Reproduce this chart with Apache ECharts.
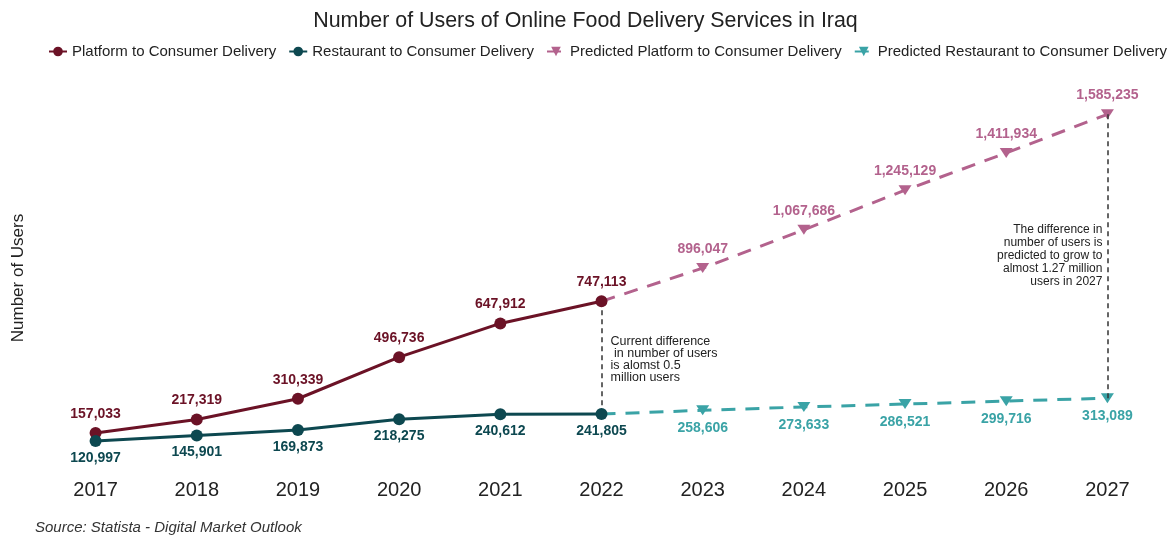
<!DOCTYPE html>
<html><head><meta charset="utf-8">
<script src="https://cdn.jsdelivr.net/npm/echarts@6/dist/echarts.min.js"></script>
<style>html,body{margin:0;padding:0;background:#fff}#c{width:1171px;height:539px}</style>
</head><body><div id="c"></div>
<script>
const years = ['2017','2018','2019','2020','2021','2022','2023','2024','2025','2026','2027'];
const platformActual = [157033, 217319, 310339, 496736, 647912, 747113, null, null, null, null, null];
const restaurantActual = [120997, 145901, 169873, 218275, 240612, 241805, null, null, null, null, null];
const platformPredicted = [null, null, null, null, null, 747113, 896047, 1067686, 1245129, 1411934, 1585235];
const restaurantPredicted = [null, null, null, null, null, 241805, 258606, 273633, 286521, 299716, 313089];
const noteCurrent = 'Current difference\n in number of users\nis alomst 0.5\nmillion users';
const noteFuture = 'The difference in\nnumber of users is\npredicted to grow to\nalmost 1.27 million\nusers in 2027';

const cPA = '#6b1226', cRA = '#0d4850', cPP = '#b3628d', cRP = '#3aa3a6';
const fmt = v => Number(v).toLocaleString('en-US');
const font = '"Liberation Sans", Arial, sans-serif';

function predData(arr, start) {
  return arr.map((v, i) => i === start ? { value: v, symbolSize: 0, label: { show: false } } : v);
}

const chart = echarts.init(document.getElementById('c'));
chart.setOption({
  animation: false,
  textStyle: { fontFamily: font },
  title: { text: 'Number of Users of Online Food Delivery Services in Iraq', left: 'center', top: 6,
    textStyle: { fontSize: 21.4, fontWeight: 'normal', color: '#222', fontFamily: font } },
  legend: { top: 44, left: 48, right: 0, padding: 0, itemGap: 12, itemWidth: 18, itemHeight: 12,
    textStyle: { fontSize: 15, color: '#222', fontFamily: font },
    data: ['Platform to Consumer Delivery', 'Restaurant to Consumer Delivery', 'Predicted Platform to Consumer Delivery', 'Predicted Restaurant to Consumer Delivery'] },
  grid: { left: 45, right: 13, top: 111, bottom: 71, containLabel: false },
  xAxis: { type: 'category', data: years, boundaryGap: true,
    axisLine: { show: false }, axisTick: { show: false },
    axisLabel: { fontSize: 20, color: '#222', margin: 12, fontFamily: font } },
  yAxis: { type: 'value', min: 0, max: 1600000, show: true,
    axisLine: { show: false }, axisTick: { show: false }, axisLabel: { show: false }, splitLine: { show: false } },
  graphic: [
    { type: 'text', left: 35, top: 520,
      style: { text: 'Source: Statista - Digital Market Outlook', font: 'italic 15px ' + font, fill: '#333' } },
    { type: 'text', x: 18, y: 278, rotation: Math.PI / 2,
      style: { text: 'Number of Users', font: '17px ' + font, fill: '#222', align: 'center', verticalAlign: 'middle' } }
  ],
  series: [
    { name: 'Platform to Consumer Delivery', type: 'line', data: platformActual, z: 5,
      symbol: 'circle', symbolSize: 12, itemStyle: { color: cPA }, lineStyle: { color: cPA, width: 3 },
      label: { show: true, position: 'top', distance: 6, formatter: p => fmt(p.value), color: cPA, fontWeight: 'bold', fontSize: 14, fontFamily: font },
      markLine: { silent: true, symbol: 'none', label: { show: false },
        lineStyle: { color: '#333', type: [5, 4], width: 1.5 },
        data: [
          [{ coord: ['2022', platformActual[5]] }, { coord: ['2022', restaurantActual[5]] }],
          [{ coord: ['2027', platformPredicted[10]] }, { coord: ['2027', restaurantPredicted[10]] }]
        ] },
      markPoint: { silent: true, symbol: 'circle', symbolSize: 0, itemStyle: { color: 'rgba(0,0,0,0)' }, data: [
        { coord: ['2022', 484000], label: { show: true, formatter: noteCurrent, position: 'right', distance: 9, align: 'left', color: '#222', fontSize: 12.5, lineHeight: 12, fontFamily: font } },
        { coord: ['2027', 950000], label: { show: true, formatter: noteFuture, position: 'left', distance: 5, align: 'right', color: '#222', fontSize: 12, lineHeight: 13, fontFamily: font } }
      ] } },
    { name: 'Restaurant to Consumer Delivery', type: 'line', data: restaurantActual, z: 5,
      symbol: 'circle', symbolSize: 12, itemStyle: { color: cRA }, lineStyle: { color: cRA, width: 3 },
      label: { show: true, position: 'bottom', distance: 4, formatter: p => fmt(p.value), color: cRA, fontWeight: 'bold', fontSize: 14, fontFamily: font } },
    { name: 'Predicted Platform to Consumer Delivery', type: 'line', data: predData(platformPredicted, 5), z: 4,
      symbol: 'triangle', symbolRotate: 180, symbolSize: [13, 10], itemStyle: { color: cPP }, lineStyle: { color: cPP, width: 3, type: [14, 10] },
      label: { show: true, position: 'top', distance: 7, formatter: p => fmt(p.value), color: cPP, fontWeight: 'bold', fontSize: 14, fontFamily: font } },
    { name: 'Predicted Restaurant to Consumer Delivery', type: 'line', data: predData(restaurantPredicted, 5), z: 4,
      symbol: 'triangle', symbolRotate: 180, symbolSize: [13, 10], itemStyle: { color: cRP }, lineStyle: { color: cRP, width: 3, type: [14, 10] },
      label: { show: true, position: 'bottom', distance: 6, formatter: p => fmt(p.value), color: cRP, fontWeight: 'bold', fontSize: 14, fontFamily: font } }
  ]
});
</script></body></html>
